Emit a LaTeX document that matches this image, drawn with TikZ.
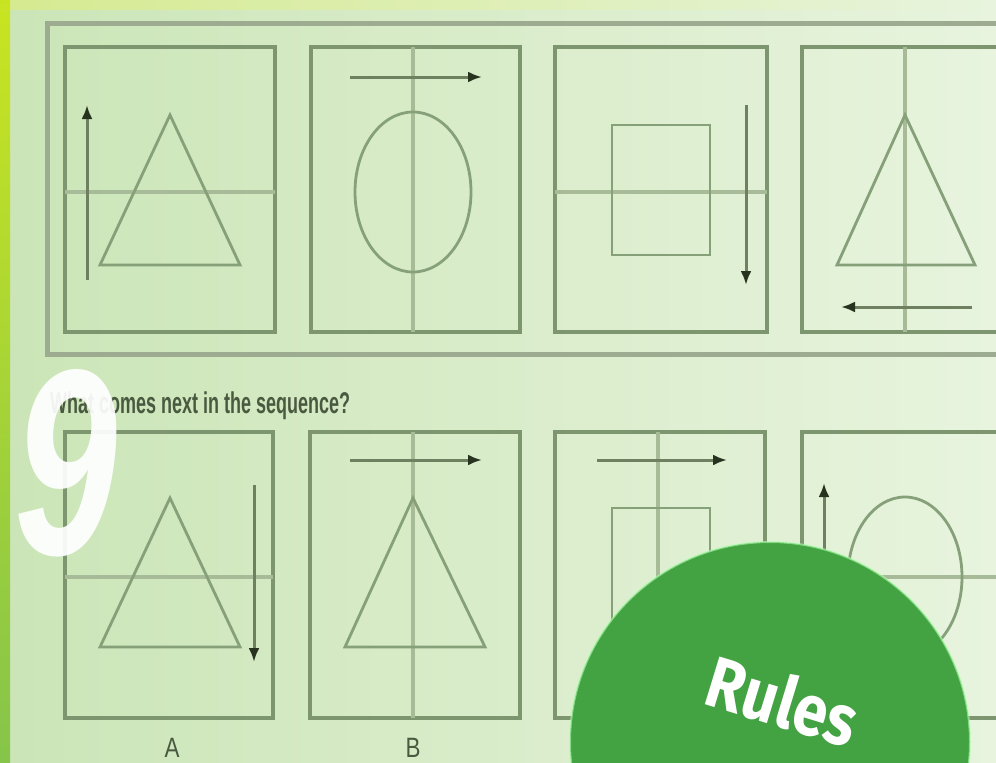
\documentclass[tikz,border=0pt]{standalone}
\usepackage{fontspec}
\setmainfont{Liberation Sans}
\newfontfamily\firafont{Fira Sans}
\usetikzlibrary{arrows.meta,positioning}
\usepackage{xcolor}

\definecolor{fondoizq}{HTML}{CBE5B7}
\definecolor{fondoder}{HTML}{E8F4DE}
\definecolor{franja}{HTML}{86C44A}
\definecolor{marco}{HTML}{7E9670}
\definecolor{panel}{HTML}{9DAB90}
\definecolor{ejecol}{HTML}{A8BB98}
\definecolor{figcol}{HTML}{86A079}
\definecolor{flechacol}{HTML}{6E805F}
\definecolor{puntacol}{HTML}{27331F}
\definecolor{textocol}{HTML}{4A5A40}
\definecolor{verde}{HTML}{43A241}

\begin{document}
\begin{tikzpicture}[x=1pt,y=-1pt,
  caja/.style={draw=marco,line width=4.5pt},
  eje/.style={draw=ejecol,line width=4pt},
  figura/.style={draw=figcol,line width=2.8pt},
  flecha/.style={draw=flechacol,line width=3pt,
    -{Latex[length=14pt,width=11pt,color=puntacol]}}]
  \useasboundingbox (0,0) rectangle (996,763);
  \clip (0,0) rectangle (996,763);

  % Fondo
  \shade[left color=fondoizq,right color=fondoder] (0,0) rectangle (996,763);
  \shade[left color=yellow!35!fondoizq,right color=fondoder,opacity=0.6] (0,0) rectangle (996,9);
  \shade[top color=yellow!55!franja,bottom color=franja] (0,0) rectangle (10,763);

  % Marco de la serie
  \draw[draw=panel,line width=5pt] (47,23) rectangle (1100,354);

  % Serie: caja 1
  \draw[caja] (65,47) rectangle (275,332);
  \draw[eje] (65,192) -- (275,192);
  \draw[figura] (170,115) -- (100,265) -- (240,265) -- cycle;
  \draw[flecha] (87,280) -- (87,105);

  % Serie: caja 2
  \draw[caja] (311,47) rectangle (520,332);
  \draw[eje] (413,47) -- (413,332);
  \draw[figura] (413,192) ellipse [x radius=58pt,y radius=80pt];
  \draw[flecha] (350,77) -- (482,77);

  % Serie: caja 3
  \draw[caja] (555,47) rectangle (767,332);
  \draw[eje] (555,192) -- (767,192);
  \draw[figura] (612,125) rectangle (710,255);
  \draw[flecha] (746,105) -- (746,285);

  % Serie: caja 4
  \draw[caja] (802,47) rectangle (1012,332);
  \draw[eje] (905,47) -- (905,332);
  \draw[figura] (905,115) -- (837,265) -- (975,265) -- cycle;
  \draw[flecha] (972,307) -- (841,307);

  % Pregunta
  \node[anchor=base west,text=textocol,inner sep=0pt,xscale=0.6,
    font=\fontsize{30}{30}\selectfont\bfseries] (pregunta) at (50,413)
    {What comes next in the sequence?};

  % Opción A
  \draw[caja] (65,432) rectangle (273,718);
  \draw[eje] (65,577) -- (273,577);
  \draw[figura] (170,498) -- (100,647) -- (240,647) -- cycle;
  \draw[flecha] (254,485) -- (254,662);

  % Opción B
  \draw[caja] (310,432) rectangle (520,718);
  \draw[eje] (413,432) -- (413,718);
  \draw[figura] (413,498) -- (345,647) -- (485,647) -- cycle;
  \draw[flecha] (350,460) -- (482,460);

  % Opción C
  \draw[caja] (555,432) rectangle (765,718);
  \draw[eje] (658,432) -- (658,718);
  \draw[figura] (612,508) rectangle (710,638);
  \draw[flecha] (597,460) -- (727,460);

  % Opción D
  \draw[caja] (802,432) rectangle (1012,718);
  \draw[eje] (802,577) -- (1012,577);
  \draw[figura] (905,577) ellipse [x radius=57pt,y radius=80pt];
  \draw[flecha] (824,660) -- (824,483);

  % Letras
  \node[anchor=base,text=textocol,inner sep=0pt,xscale=0.8,
    font=\fontsize{28}{28}\selectfont] (etiqA) at (172,757) {A};
  \node[anchor=base,text=textocol,inner sep=0pt,xscale=0.8,
    font=\fontsize{28}{28}\selectfont] (etiqB) at (413,757) {B};

  % El nueve
  \node[text=white,opacity=0.93,inner sep=0pt,xscale=0.7,
    font=\fontsize{265}{265}\selectfont\bfseries\itshape] (nueve) at (66,463) {9};

  % Círculo verde
  \fill[verde] (770,742) circle (200pt);
  \draw[green!30!white,line width=2pt,opacity=0.6] (770,742) circle (200pt);
  \node[text=white,inner sep=0pt,rotate=-17,xscale=0.85,
    font=\firafont\fontsize{72}{72}\selectfont\bfseries] (reglas) at (783,700) {Rules};
\end{tikzpicture}
\end{document}
